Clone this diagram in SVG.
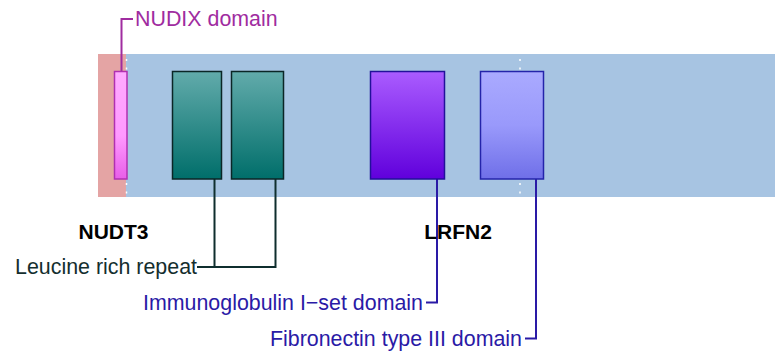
<svg xmlns="http://www.w3.org/2000/svg" width="775" height="351" viewBox="0 0 775 351">
  <defs>
    <linearGradient id="gNudix" x1="0" y1="0" x2="0" y2="1">
      <stop offset="0" stop-color="#ffaaff"/>
      <stop offset="0.6" stop-color="#ff99ff"/>
      <stop offset="1" stop-color="#e85ee8"/>
    </linearGradient>
    <linearGradient id="gLrr" x1="0" y1="0" x2="0" y2="1">
      <stop offset="0" stop-color="#62abab"/>
      <stop offset="1" stop-color="#006e6a"/>
    </linearGradient>
    <linearGradient id="gIg" x1="0" y1="0" x2="0" y2="1">
      <stop offset="0" stop-color="#aa5cff"/>
      <stop offset="1" stop-color="#6000dc"/>
    </linearGradient>
    <linearGradient id="gFn" x1="0" y1="0" x2="0" y2="1">
      <stop offset="0" stop-color="#aaaaff"/>
      <stop offset="0.5" stop-color="#9999fb"/>
      <stop offset="1" stop-color="#6f6fe8"/>
    </linearGradient>
  </defs>
  <style>
    text { font-family: "Liberation Sans", Arial, sans-serif; font-size: 21.4px; }
    .gene { font-weight: bold; fill: #000; font-size: 21px; }
    .lead { fill: none; stroke-width: 2; }
    .brk { stroke: #fff; stroke-width: 1.5; stroke-dasharray: 2 6.5; }
  </style>

  <!-- protein backgrounds -->
  <g id="proteins">
    <rect x="98" y="54" width="28" height="143" fill="#e4a4a4"/>
    <rect x="126" y="54" width="649" height="143" fill="#a7c4e2"/>
    <line class="brk" x1="126.5" y1="59" x2="126.5" y2="72"/>
    <line class="brk" x1="126.5" y1="183" x2="126.5" y2="197"/>
    <line class="brk" x1="520" y1="59" x2="520" y2="72"/>
    <line class="brk" x1="520" y1="183" x2="520" y2="197"/>
  </g>

  <!-- leader lines -->
  <g id="connectors">
    <polyline class="lead" stroke="#a02ca0" points="121.5,71 121.5,19 133,19"/>
    <polyline class="lead" stroke="#0f2e2e" points="214.5,179 214.5,267 197,267"/>
    <polyline class="lead" stroke="#0f2e2e" points="275.5,179 275.5,267 214.5,267"/>
    <polyline class="lead" stroke="#2a1aa6" points="437,179 437,302.5 426,302.5"/>
    <polyline class="lead" stroke="#2a1aa6" points="536,179 536,338.5 525,338.5"/>
  </g>

  <g id="nudix">
    <rect x="114.5" y="71.5" width="12.5" height="107.5" fill="url(#gNudix)" stroke="#b030b0" stroke-width="1.5"/>
  </g>
  <g id="lrr1">
    <rect x="172.5" y="71.5" width="49" height="107.5" fill="url(#gLrr)" stroke="#0b2626" stroke-width="1.5"/>
  </g>
  <g id="lrr2">
    <rect x="231.5" y="71.5" width="52" height="107.5" fill="url(#gLrr)" stroke="#0b2626" stroke-width="1.5"/>
  </g>
  <g id="igset">
    <rect x="370.5" y="71.5" width="74" height="107.5" fill="url(#gIg)" stroke="#22119a" stroke-width="1.5"/>
  </g>
  <g id="fn3">
    <rect x="480.5" y="71.5" width="63" height="107.5" fill="url(#gFn)" stroke="#2424aa" stroke-width="1.5"/>
  </g>

  <!-- labels -->
  <g id="labels">
    <text x="135" y="26" fill="#a02ca0">NUDIX domain</text>
    <text class="gene" x="113.5" y="239" text-anchor="middle">NUDT3</text>
    <text class="gene" x="458" y="239" text-anchor="middle">LRFN2</text>
    <text x="197" y="274" text-anchor="end" fill="#142e2e">Leucine rich repeat</text>
    <text x="423" y="310" text-anchor="end" fill="#2a1aa6">Immunoglobulin I−set domain</text>
    <text x="522" y="346" text-anchor="end" fill="#2a1aa6">Fibronectin type III domain</text>
  </g>
</svg>
